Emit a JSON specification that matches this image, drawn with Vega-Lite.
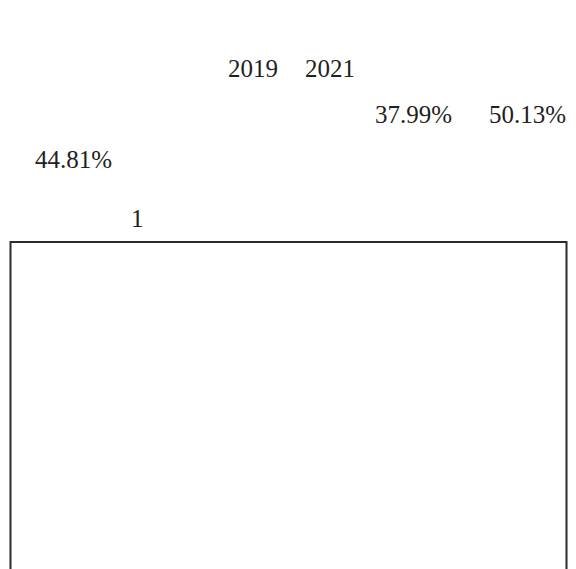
{
  "$schema": "https://vega.github.io/schema/vega-lite/v6.json",
  "width": 576,
  "height": 569,
  "padding": 0,
  "autosize": {"type": "fit", "contains": "padding"},
  "background": "white",
  "config": {"view": {"stroke": null}},
  "datasets": {
    "words": [
      {"text": "2019", "col": 9.12, "line": 1},
      {"text": "2021", "col": 12.2, "line": 1},
      {"text": "37.99%", "col": 15.0, "line": 2},
      {"text": "50.13%", "col": 19.56, "line": 2},
      {"text": "44.81%", "col": 1.4, "line": 3},
      {"text": "1", "col": 5.24, "line": 4.297}
    ],
    "frame": [
      {"left": 0.42, "right": 22.66, "top": 4.626, "bottom": 13}
    ]
  },
  "layer": [
    {
      "data": {"name": "words"},
      "mark": {"type": "text", "align": "left", "baseline": "alphabetic", "font": "Liberation Serif", "fontSize": 25, "color": "#231f20"},
      "encoding": {
        "x": {"field": "col", "type": "quantitative", "scale": {"domain": [0, 23.04], "nice": false, "zero": false}, "axis": null},
        "y": {"field": "line", "type": "quantitative", "scale": {"domain": [-0.6923, 11.813], "nice": false, "zero": false, "reverse": true}, "axis": null},
        "text": {"field": "text"}
      }
    },
    {
      "data": {"name": "frame"},
      "mark": {"type": "rect", "fill": null, "stroke": "#2b2b2b", "strokeWidth": 2, "clip": true},
      "encoding": {
        "x": {"field": "left", "type": "quantitative"},
        "x2": {"field": "right"},
        "y": {"field": "top", "type": "quantitative"},
        "y2": {"field": "bottom"}
      }
    }
  ]
}
